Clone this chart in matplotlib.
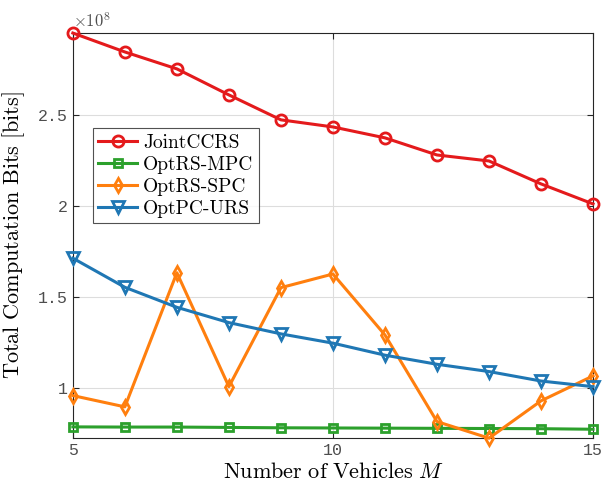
import matplotlib
matplotlib.use('Agg')
import matplotlib.pyplot as plt
from matplotlib.ticker import FuncFormatter

# number of vehicles
vehicles = [5, 6, 7, 8, 9, 10, 11, 12, 13, 14, 15]

# total computation bits, in units of 1e8 bits
joint_ccrs = [2.950, 2.846, 2.753, 2.610, 2.473, 2.434, 2.374, 2.280, 2.247, 2.121, 2.011]
optrs_mpc = [0.786, 0.785, 0.785, 0.783, 0.781, 0.780, 0.779, 0.778, 0.777, 0.776, 0.773]
optrs_spc = [0.958, 0.896, 1.633, 1.007, 1.551, 1.626, 1.291, 0.815, 0.724, 0.929, 1.066]
optpc_urs = [1.713, 1.553, 1.443, 1.359, 1.297, 1.246, 1.180, 1.130, 1.090, 1.038, 1.007]

labels = ['JointCCRS', 'OptRS-MPC', 'OptRS-SPC', 'OptPC-URS']
y_ticks = [1, 1.5, 2, 2.5]
x_ticks = [5, 10, 15]

plt.rcParams['mathtext.fontset'] = 'cm'
plt.rcParams['axes.unicode_minus'] = False

fig = plt.figure(figsize=(6.07, 4.93), dpi=100)
ax = fig.add_axes([0.120, 0.1116, 0.857, 0.8214])

series = [joint_ccrs, optrs_mpc, optrs_spc, optpc_urs]
colors = ['#e41a1c', '#2ca02c', '#ff7f0e', '#1f77b4']
markers = ['o', 's', 'd', 'v']
msizes = [8, 6, 7, 8]

for vals, lab, c, m, ms in zip(series, labels, colors, markers, msizes):
    ax.plot(vehicles, vals, color=c, marker=m, markersize=ms, markerfacecolor='none',
            markeredgewidth=2, linewidth=2.2, label=lab, clip_on=False, zorder=3)

ax.set_xlim(5, 15)
ax.set_ylim(0.725, 2.95)
ax.set_xticks(x_ticks)
ax.set_yticks(y_ticks)
ax.yaxis.set_major_formatter(FuncFormatter(lambda v, p: '%g' % v))
ax.grid(True, color='#dddddd', linewidth=0.8)
ax.set_axisbelow(True)
ax.tick_params(direction='in', length=4, width=0.8, colors='#262626',
               top=True, right=True, labelsize=12)
for lbl in ax.get_xticklabels() + ax.get_yticklabels():
    lbl.set_fontfamily('Liberation Mono')
    lbl.set_color('#4d4d4d')
for s in ax.spines.values():
    s.set_color('#262626')
    s.set_linewidth(0.8)

ax.text(0.0, 1.005, r'$\times10^{8}$', transform=ax.transAxes, fontsize=12,
        color='#4d4d4d', ha='left', va='bottom')

ax.set_xlabel(r'$\mathrm{Number\ of\ Vehicles}\ M$', fontsize=16, labelpad=3)
ax.set_ylabel(r'$\mathrm{Total\ Computation\ Bits\ [bits]}$', fontsize=16, labelpad=8)

leg = ax.legend(loc='upper left', bbox_to_anchor=(0.038, 0.765), frameon=True,
                fancybox=False, edgecolor='#262626', handlelength=2.0,
                borderpad=0.3, labelspacing=0.2, handletextpad=0.3,
                borderaxespad=0, prop={'family': 'cmr10', 'size': 14})
leg.get_frame().set_linewidth(0.8)

fig.savefig('out.png', dpi=100)
